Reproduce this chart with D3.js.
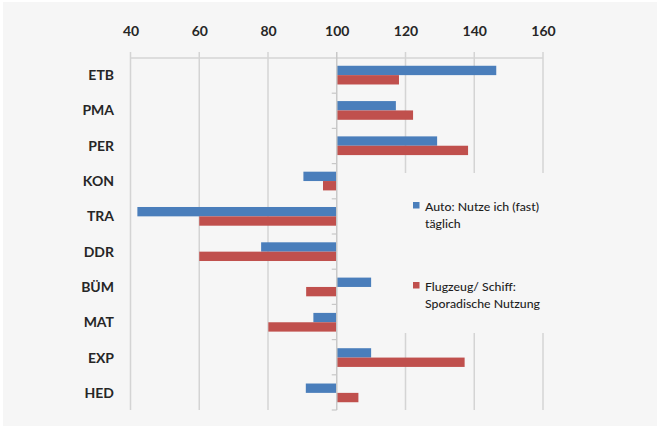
<!DOCTYPE html>
<html>
<head>
<meta charset="utf-8">
<script src="https://cdn.jsdelivr.net/npm/d3@7"></script>
<style>
  html, body { margin: 0; padding: 0; background: #ffffff; }
  svg { display: block; }
</style>
</head>
<body>
<svg id="chart" width="659" height="427"></svg>
<script>
// Index values per category (100 = average)
const categories = ["ETB", "PMA", "PER", "KON", "TRA", "DDR", "BÜM", "MAT", "EXP", "HED"];
const autoValues = [146.4, 117.2, 129.2, 90.3, 42, 78, 110, 93.2, 110, 91];
const flugValues = [118.1, 122.2, 138.2, 96, 60, 60, 91.1, 80.1, 137.2, 106.3];
const seriesNames = ["Auto: Nutze ich (fast) täglich", "Flugzeug/ Schiff: Sporadische Nutzung"];
const seriesLines = [["Auto: Nutze ich (fast)", "täglich"], ["Flugzeug/ Schiff:", "Sporadische Nutzung"]];
const seriesColors = ["#4a7ebb", "#c0504d"];
const tickValues = [40, 60, 80, 100, 120, 140, 160];

const svg = d3.select("#chart");
const font = "Lato, 'Open Sans', sans-serif";
const bg = "#f6f6f6";

svg.append("rect").attr("x", 3).attr("y", 2).attr("width", 654).attr("height", 424).attr("fill", bg);

const plotTop = 58, plotBottom = 410;
const x = d3.scaleLinear().domain([40, 160]).range([130.5, 543]);
const y = d3.scaleBand().domain(categories).range([plotTop, plotBottom]).paddingInner(0.47).paddingOuter(0.22);
const ySeries = d3.scaleBand().domain(seriesNames).range([0, y.bandwidth()]);

// Vertical gridlines (extending slightly above the top axis line)
svg.append("g").selectAll("line").data(tickValues.filter(t => t !== 100)).join("line")
  .attr("x1", d => x(d)).attr("x2", d => x(d))
  .attr("y1", plotTop - 6).attr("y2", plotBottom)
  .attr("stroke", "#d4d4d4").attr("stroke-width", 1.5);

// Top axis line
svg.append("line").attr("x1", x(40)).attr("x2", x(160)).attr("y1", plotTop).attr("y2", plotTop)
  .attr("stroke", "#d4d4d4").attr("stroke-width", 1.5);

// Top tick labels
const xAxis = d3.axisTop(x).tickValues(tickValues).tickSize(0).tickPadding(0);
const gx = svg.append("g").attr("transform", "translate(0,36)").call(xAxis);
gx.select(".domain").remove();
gx.selectAll("text").attr("font-family", font).attr("font-size", 14).attr("font-weight", "bold")
  .attr("fill", "#262626").attr("dy", 0);

// Bars
const data = categories.map((c, i) => ({ cat: c, vals: [autoValues[i], flugValues[i]] }));
const groups = svg.append("g").selectAll("g").data(data).join("g")
  .attr("transform", d => `translate(0,${y(d.cat)})`);
groups.selectAll("rect").data(d => d.vals.map((v, j) => ({ v, j }))).join("rect")
  .attr("x", d => Math.min(x(100), x(d.v)))
  .attr("width", d => Math.abs(x(d.v) - x(100)))
  .attr("y", d => ySeries(seriesNames[d.j]))
  .attr("height", ySeries.bandwidth())
  .attr("fill", d => seriesColors[d.j]);

// Category axis at 100
svg.append("line").attr("x1", x(100)).attr("x2", x(100)).attr("y1", plotTop - 6).attr("y2", plotBottom)
  .attr("stroke", "#c8c8c8").attr("stroke-width", 1.5);
const boundaries = d3.range(1, categories.length + 1).map(i => plotTop + i * (plotBottom - plotTop) / categories.length);
svg.append("g").selectAll("line").data(boundaries).join("line")
  .attr("x1", x(100) - 5).attr("x2", x(100)).attr("y1", d => d).attr("y2", d => d)
  .attr("stroke", "#c8c8c8").attr("stroke-width", 1.2);

// Category labels
svg.append("g").selectAll("text").data(categories).join("text")
  .attr("x", 114).attr("y", d => y(d) + y.bandwidth() / 2)
  .attr("dy", "0.36em").attr("text-anchor", "end")
  .attr("font-family", font).attr("font-size", 14).attr("font-weight", "bold").attr("fill", "#262626")
  .text(d => d);

// Legend
const legend = svg.append("g");
legend.append("rect").attr("x", 402).attr("y", 173).attr("width", 162).attr("height", 160).attr("fill", bg);
const legendY = [211, 291];
seriesLines.forEach((lines, i) => {
  legend.append("rect").attr("x", 413).attr("y", legendY[i] - 9).attr("width", 6.5).attr("height", 6.5)
    .attr("fill", seriesColors[i]);
  lines.forEach((t, k) => {
    legend.append("text").attr("x", 425).attr("y", legendY[i] + k * 17)
      .attr("font-family", font).attr("font-size", 12.3).attr("font-weight", 500)
      .attr("fill", "#1e1e1e").text(t);
  });
});
</script>
</body>
</html>
